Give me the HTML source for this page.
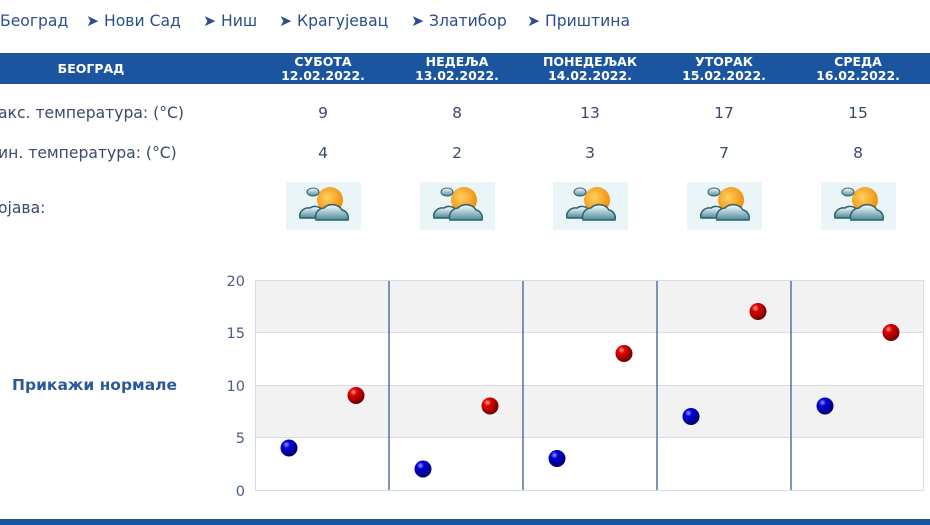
<!DOCTYPE html>
<html><head><meta charset="utf-8"><style>
body{margin:0;width:930px;height:525px;overflow:hidden;background:#fff;font-family:"DejaVu Sans","Liberation Sans",sans-serif;position:relative;color:#3a4a6a}
.a{position:absolute;white-space:nowrap}
.nav{top:12px;font-size:15.6px;color:#2a4f8a}
.hdr{left:0;top:53px;width:930px;height:31px;background:#1b55a0}
.h{color:#fff;font-weight:bold;font-size:12.5px;text-align:center;line-height:14px;width:130px}
.v{font-size:15.5px;color:#3a4a6a;text-align:center;width:60px}
.lab{font-size:15.6px;color:#3a4a6a}
</style></head><body>
<div class="a nav" style="left:0">Београд</div>
<div class="a nav" style="left:86px">➤ Нови Сад</div>
<div class="a nav" style="left:203px">➤ Ниш</div>
<div class="a nav" style="left:279px">➤ Крагујевац</div>
<div class="a nav" style="left:411px">➤ Златибор</div>
<div class="a nav" style="left:527px">➤ Приштина</div>
<div class="a hdr"></div>
<div class="a h" style="left:26px;top:62px">БЕОГРАД</div>
<div class="a h" style="left:258px;top:55px">СУБОТА<br>12.02.2022.</div>
<div class="a h" style="left:392px;top:55px">НЕДЕЉА<br>13.02.2022.</div>
<div class="a h" style="left:525px;top:55px">ПОНЕДЕЉАК<br>14.02.2022.</div>
<div class="a h" style="left:659px;top:55px">УТОРАК<br>15.02.2022.</div>
<div class="a h" style="left:793px;top:55px">СРЕДА<br>16.02.2022.</div>
<div class="a lab" style="left:-2px;top:104px">акс. температура: (°C)</div>
<div class="a lab" style="left:-2px;top:144px">ин. температура: (°C)</div>
<div class="a lab" style="left:-2px;top:199px">ојава:</div>
<div class="a v" style="left:293px;top:104px">9</div><div class="a v" style="left:427px;top:104px">8</div><div class="a v" style="left:560px;top:104px">13</div><div class="a v" style="left:694px;top:104px">17</div><div class="a v" style="left:828px;top:104px">15</div>
<div class="a v" style="left:293px;top:144px">4</div><div class="a v" style="left:427px;top:144px">2</div><div class="a v" style="left:560px;top:144px">3</div><div class="a v" style="left:694px;top:144px">7</div><div class="a v" style="left:828px;top:144px">8</div>
<div class="a" style="left:12px;top:376px;font-size:15.5px;font-weight:bold;color:#2a5a9a">Прикажи нормале</div>
<svg class="a" style="left:0;top:0" width="930" height="525">
<defs>
<radialGradient id="r" cx="0.35" cy="0.3" r="0.7"><stop offset="0" stop-color="#ff9a9a"/><stop offset="0.3" stop-color="#e00000"/><stop offset="1" stop-color="#700000"/></radialGradient>
<radialGradient id="b" cx="0.35" cy="0.3" r="0.7"><stop offset="0" stop-color="#9a9aff"/><stop offset="0.3" stop-color="#0000d8"/><stop offset="1" stop-color="#000070"/></radialGradient>
<radialGradient id="s" cx="0.4" cy="0.4" r="0.6"><stop offset="0" stop-color="#ffd060"/><stop offset="1" stop-color="#f09010"/></radialGradient>
<linearGradient id="c" x1="0" y1="0" x2="0" y2="1"><stop offset="0" stop-color="#ffffff"/><stop offset="1" stop-color="#4a8a98"/></linearGradient>
<g id="ic"><rect x="0" y="0" width="75" height="48" fill="#eaf5f8"/><circle cx="44" cy="18" r="13" fill="url(#s)"/><path d="M14 36 a9 8 0 0 1 10 -10 a8 7 0 0 1 12 2 a9 8 0 0 1 8 8 z" fill="url(#c)" stroke="#2a6070" stroke-width="1.5"/><path d="M30 38 a9 9 0 0 1 8 -12 a11 10 0 0 1 18 2 a8 8 0 0 1 6 10 z" fill="url(#c)" stroke="#2a6070" stroke-width="1.5"/><ellipse cx="27" cy="10" rx="6" ry="4" fill="url(#c)" stroke="#2a6070"/></g>
</defs>
<use href="#ic" x="286" y="182"/><use href="#ic" x="420" y="182"/><use href="#ic" x="553" y="182"/><use href="#ic" x="687" y="182"/><use href="#ic" x="821" y="182"/>
<rect x="255" y="280" width="669" height="52.5" fill="#f2f2f2"/>
<rect x="255" y="385" width="669" height="52.5" fill="#f2f2f2"/>
<g stroke="#d8dde5" stroke-width="1" fill="none"><line x1="255" y1="280.5" x2="924" y2="280.5"/><line x1="255" y1="332.5" x2="924" y2="332.5"/><line x1="255" y1="385.5" x2="924" y2="385.5"/><line x1="255" y1="437.5" x2="924" y2="437.5"/><line x1="255" y1="490.5" x2="924" y2="490.5"/><line x1="255.5" y1="280" x2="255.5" y2="490"/><line x1="923.5" y1="280" x2="923.5" y2="490"/></g>
<g stroke="#3a5f95" stroke-width="1.3"><line x1="389" y1="281" x2="389" y2="490"/><line x1="523" y1="281" x2="523" y2="490"/><line x1="657" y1="281" x2="657" y2="490"/><line x1="791" y1="281" x2="791" y2="490"/></g>
<g font-size="14.5" fill="#4a5f85" text-anchor="end" font-family="DejaVu Sans,sans-serif"><text x="245" y="286">20</text><text x="245" y="338">15</text><text x="245" y="391">10</text><text x="245" y="443">5</text><text x="245" y="496">0</text></g>
<g fill="url(#b)"><circle cx="289" cy="448" r="8.5"/><circle cx="423" cy="469" r="8.5"/><circle cx="557" cy="458.5" r="8.5"/><circle cx="691" cy="416.5" r="8.5"/><circle cx="825" cy="406" r="8.5"/></g>
<g fill="url(#r)"><circle cx="356" cy="395.5" r="8.5"/><circle cx="490" cy="406" r="8.5"/><circle cx="624" cy="353.5" r="8.5"/><circle cx="758" cy="311.5" r="8.5"/><circle cx="891" cy="332.5" r="8.5"/></g>
<rect x="0" y="519" width="930" height="6" fill="#1b55a0"/>
</svg>
</body></html>
